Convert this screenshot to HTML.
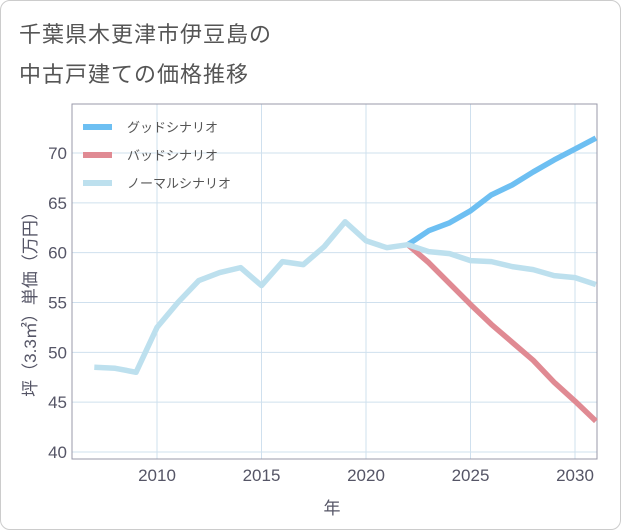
<!DOCTYPE html>
<html><head><meta charset="utf-8"><style>
body{margin:0;background:#fff;}
#wrap{position:relative;width:619px;height:528px;border:1px solid #ccc;border-radius:10px;overflow:hidden;font-family:"Liberation Sans","Noto Sans CJK JP",sans-serif;}
.title{position:absolute;left:18px;font-size:22px;color:#555;letter-spacing:1px;}
</style></head><body>
<div id="wrap">
<div class="title" style="top:16px">千葉県木更津市伊豆島の</div>
<div class="title" style="top:56px">中古戸建ての価格推移</div>
<svg id="chart" width="621" height="530" style="position:absolute;left:-1px;top:-1px"></svg>
</div>
<script>
const years=[2007,2008,2009,2010,2011,2012,2013,2014,2015,2016,2017,2018,2019,2020,2021,2022,2023,2024,2025,2026,2027,2028,2029,2030,2031];
const normal=[48.5,48.4,48.0,52.5,55.0,57.2,58.0,58.5,56.7,59.1,58.8,60.6,63.1,61.2,60.5,60.8,60.1,59.9,59.2,59.1,58.6,58.3,57.7,57.5,56.8];
const futureYears=[2022,2023,2024,2025,2026,2027,2028,2029,2030,2031];
const good=[60.8,62.2,63.0,64.2,65.8,66.8,68.1,69.3,70.4,71.5];
const bad=[60.8,59.0,56.9,54.8,52.8,51.0,49.2,47.0,45.1,43.1];
const xTicks=[2010,2015,2020,2025,2030];
const yTicks=[40,45,50,55,60,65,70];
const L=72,R=597,T=104,B=459;
const x=v=>157+(v-2010)*(575-157)/20;
const y=v=>452-(v-40)*(452-153)/30;
const NS="http://www.w3.org/2000/svg",svg=document.getElementById('chart');
function mk(t,a){const e=document.createElementNS(NS,t);for(const k in a)e.setAttribute(k,a[k]);svg.appendChild(e);return e;}
for(const t of xTicks){const l=mk('line',{x1:x(t),x2:x(t),y1:T,y2:B,stroke:'#cfe0ee','stroke-width':1});


const tx=mk('text',{x:x(t),y:481,'text-anchor':'middle','font-size':17,fill:'#556'});tx.textContent=t;

}
for(const t of yTicks){const l=mk('line',{x1:L,x2:R,y1:y(t),y2:y(t),stroke:'#cfe0ee','stroke-width':1});


const tx=mk('text',{x:67,y:y(t)+6,'text-anchor':'end','font-size':17,fill:'#556'});tx.textContent=t;

}
const fr=mk('rect',{x:L,y:T,width:R-L,height:B-T,fill:'none',stroke:'#99a','stroke-width':1});


function line(xs,vs,c,n){const p=mk('polyline',{points:xs.map((v,i)=>x(v)+','+y(vs[i])).join(' '),fill:'none',stroke:c,'stroke-width':5.5,'stroke-linejoin':'round'});

}
line(futureYears,good,'#6dbff2','good-scenario-line');
line(futureYears,bad,'#e08a93','bad-scenario-line');
line(years,normal,'#bde0ee','normal-scenario-line');
const leg=[['グッドシナリオ','#6dbff2',127],['バッドシナリオ','#e08a93',155],['ノーマルシナリオ','#bde0ee',183]];
for(const [t,c,yy] of leg){const l=mk('line',{x1:83,x2:112,y1:yy,y2:yy,stroke:c,'stroke-width':6});


const tx=mk('text',{x:127,y:yy+5,'font-size':13,fill:'#555'});tx.textContent=t;

}
const xt=mk('text',{x:332,y:514,'text-anchor':'middle','font-size':17,fill:'#556'});xt.textContent='年';


const yt=mk('text',{x:0,y:0,'text-anchor':'middle','font-size':17,fill:'#556',transform:'translate(36,300) rotate(-90)'});yt.textContent='坪（3.3㎡）単価（万円）';


</script>
</body></html>
